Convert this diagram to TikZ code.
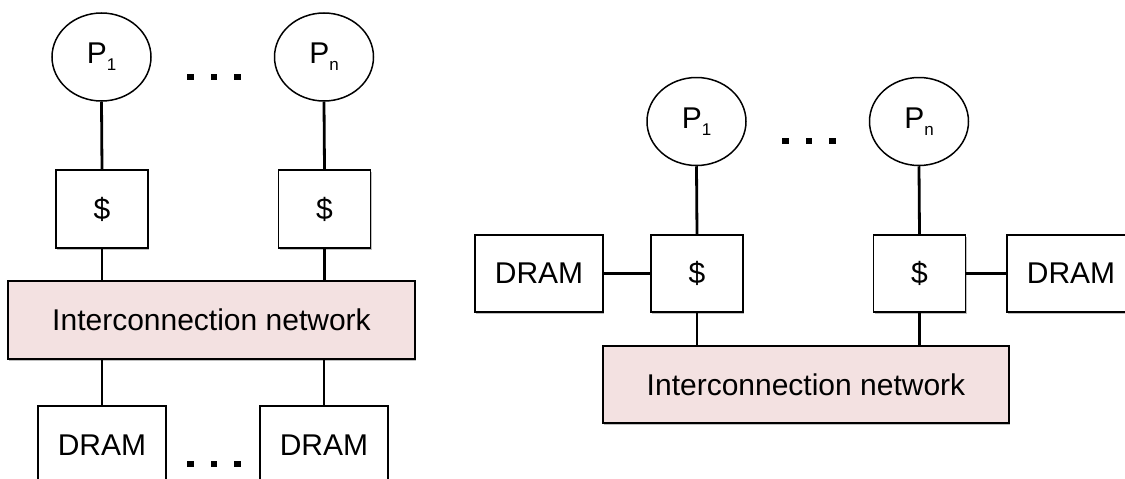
\documentclass[tikz,border=0pt]{standalone}
\usepackage{fontspec}
\setmainfont{Liberation Sans}
\usetikzlibrary{shapes.geometric,shadows}
\definecolor{netfill}{RGB}{243,225,225}
\tikzset{
  proc/.style={ellipse, draw, line width=1.5pt, minimum width=99pt, minimum height=88pt, inner sep=0pt, fill=white},
  boxshadow/.style={drop shadow={shadow xshift=1.2pt, shadow yshift=-1.8pt, opacity=0.25, fill=black}},
  cache/.style={rectangle, draw, line width=1.5pt, minimum width=92pt, minimum height=78pt, inner sep=0pt, fill=white, boxshadow},
  dram/.style={rectangle, draw, line width=1.5pt, minimum width=128pt, minimum height=78pt, inner sep=0pt, fill=white, boxshadow},
  net/.style={rectangle, draw, line width=1.5pt, minimum width=407pt, minimum height=78pt, inner sep=0pt, fill=netfill, boxshadow},
  wire/.style={line width=2.8pt},
  dotsnode/.style={inner sep=0pt}
}
\newcommand{\psub}[1]{P\raisebox{-7pt}{\fontsize{17}{17}\selectfont #1}}
\newcommand{\threedots}{\rule{6.5pt}{6.5pt}\hspace{17pt}\rule{6.5pt}{6.5pt}\hspace{17pt}\rule{6.5pt}{6.5pt}}
\begin{document}
\begin{tikzpicture}[x=1pt,y=-1pt, font=\fontsize{30}{36}\selectfont]
\useasboundingbox (0,0) rectangle (1125,479);
\clip (0,0) rectangle (1125,479);
\fill[white] (0,0) rectangle (1125,479);
% ---- left system ----
\node[proc] (p1l) at (101.5,57) {\psub{1}};
\node[proc] (pnl) at (324,57) {\psub{n}};
\node[dotsnode] (dotsl) at (214,77) {\threedots};
\node[cache] (c1l) at (102,209) {\$};
\node[cache] (cnl) at (324.5,209) {\$};
\node[net] (netl) at (211.5,320) {Interconnection network};
\node[dram] (d1l) at (102,445) {DRAM};
\node[dram] (dnl) at (324,445) {DRAM};
\node[dotsnode] (dotsb) at (214,464) {\threedots};
\draw[wire] (p1l.south) -- (c1l.north);
\draw[wire] (pnl.south) -- (cnl.north);
\draw[wire] (c1l.south) -- (c1l.south |- netl.north);
\draw[wire] (cnl.south) -- (cnl.south |- netl.north);
\draw[wire] (d1l.north |- netl.south) -- (d1l.north);
\draw[wire] (dnl.north |- netl.south) -- (dnl.north);
% ---- right system ----
\node[proc] (p1r) at (696.5,121.5) {\psub{1}};
\node[proc] (pnr) at (919,121.5) {\psub{n}};
\node[dotsnode] (dotsr) at (809,141) {\threedots};
\node[cache, minimum height=77pt] (c1r) at (697,273.5) {\$};
\node[cache, minimum height=77pt] (cnr) at (919.5,273.5) {\$};
\node[dram, minimum height=77pt] (d1r) at (539,273.5) {DRAM};
\node[dram, minimum height=77pt] (dnr) at (1071,273.5) {DRAM};
\node[net, minimum width=406pt, minimum height=77pt] (netr) at (806,384.5) {Interconnection network};
\draw[wire] (p1r.south) -- (c1r.north);
\draw[wire] (pnr.south) -- (cnr.north);
\draw[wire] (c1r.south) -- (c1r.south |- netr.north);
\draw[wire] (cnr.south) -- (cnr.south |- netr.north);
\draw[wire] (d1r.east) -- (c1r.west);
\draw[wire] (cnr.east) -- (dnr.west);
\end{tikzpicture}
\end{document}
